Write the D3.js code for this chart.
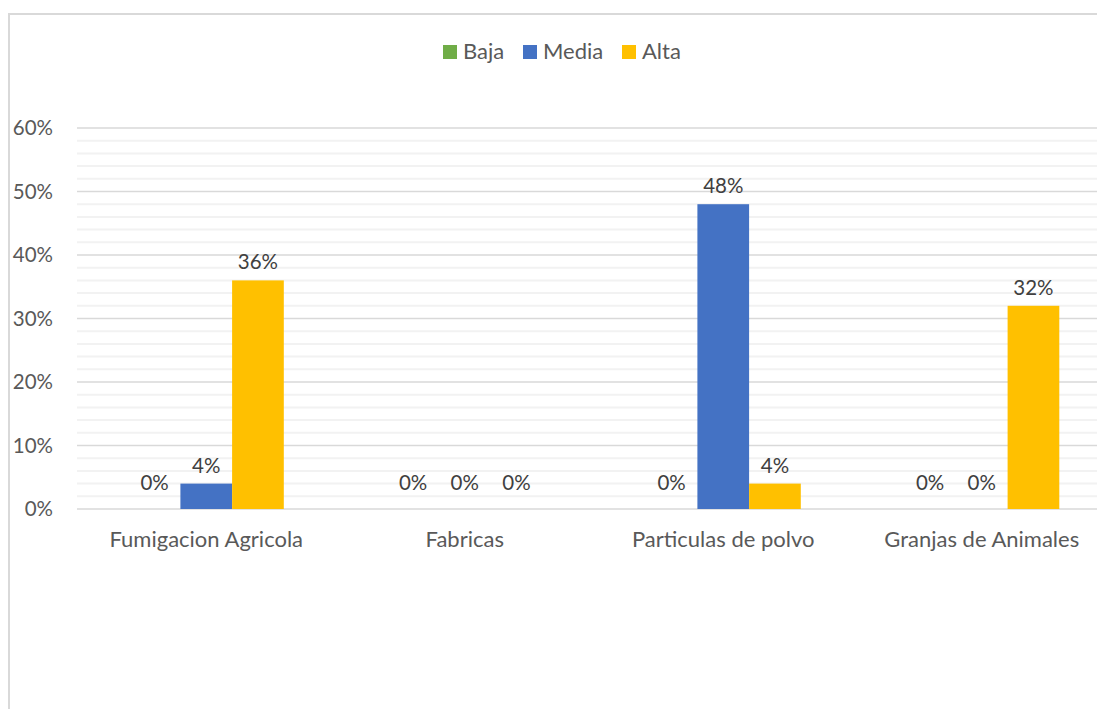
<!DOCTYPE html>
<html>
<head>
<meta charset="utf-8">
<script src="https://cdn.jsdelivr.net/npm/d3@7"></script>
<style>
  html, body { margin: 0; background: #fff; overflow: hidden; }
  svg { display: block; }
  svg text { font-family: "Lato", "Open Sans", sans-serif; }
</style>
</head>
<body>
<div id="chart"></div>
<script>
const categories = ['Fumigacion Agricola', 'Fabricas', 'Particulas de polvo', 'Granjas de Animales'];
const seriesNames = ['Baja', 'Media', 'Alta'];
const seriesColors = ['#70ad47', '#4472c4', '#ffc000'];
const baja = [0, 0, 0, 0];
const media = [0.04, 0, 0.48, 0];
const alta = [0.36, 0, 0.04, 0.32];
const majorTicks = [0, 0.1, 0.2, 0.3, 0.4, 0.5, 0.6];

const [svgW, svgH] = [1097, 709];
const margin = {top: 128, left: 77};
const plotW = 1034;
const baseY = 509;
const numSize = 20.5;   // numbers
const txtSize = 22;     // words

const series = [baja, media, alta];

const svg = d3.select('#chart').append('svg')
    .attr('width', svgW).attr('height', svgH);

// chart border (only left and top edges are inside the frame)
svg.append('path')
    .attr('d', `M9,${svgH}V14H${svgW}`)
    .attr('fill', 'none').attr('stroke', '#d9d9d9').attr('stroke-width', 2);

const y = d3.scaleLinear().domain([0, 0.6]).range([baseY, margin.top]);
const x0 = d3.scaleBand().domain(categories).range([margin.left, margin.left + plotW]);
// gap width 200%: 3 bars + 2 bar widths of gap per band
const x1 = d3.scaleBand().domain(d3.range(3)).range([0, x0.bandwidth()]).paddingOuter(1).paddingInner(0);

const grid = svg.append('g');
// minor gridlines every 2%
grid.selectAll('line.minor')
    .data(d3.range(1, 30).filter(i => i % 5 !== 0).map(i => i * 0.02))
    .join('line').attr('class', 'minor')
    .attr('x1', margin.left).attr('x2', svgW)
    .attr('y1', d => y(d)).attr('y2', d => y(d))
    .attr('stroke', '#f2f2f2').attr('stroke-width', 2);
grid.selectAll('line.major')
    .data(majorTicks)
    .join('line').attr('class', 'major')
    .attr('x1', margin.left).attr('x2', svgW)
    .attr('y1', d => y(d)).attr('y2', d => y(d))
    .attr('stroke', '#d9d9d9').attr('stroke-width', 1.5);

// y tick labels
svg.append('g').selectAll('text')
    .data(majorTicks)
    .join('text')
    .attr('x', 53).attr('y', d => y(d)).attr('dy', '0.36em')
    .attr('text-anchor', 'end').attr('fill', '#595959').attr('font-size', numSize)
    .text(d3.format('.0%'));

// bars
const groups = svg.append('g').selectAll('g')
    .data(categories)
    .join('g')
    .attr('transform', d => `translate(${x0(d)},0)`);

groups.selectAll('rect')
    .data((d, i) => series.map((s, j) => ({j, v: s[i]})))
    .join('rect')
    .attr('x', d => x1(d.j)).attr('width', x1.bandwidth())
    .attr('y', d => y(d.v)).attr('height', d => baseY - y(d.v))
    .attr('fill', d => seriesColors[d.j]);

groups.selectAll('text')
    .data((d, i) => series.map((s, j) => ({j, v: s[i]})))
    .join('text')
    .attr('x', d => x1(d.j) + x1.bandwidth() / 2)
    .attr('y', d => y(d.v) - (d.v === 0 ? 19 : 11))
    .attr('text-anchor', 'middle').attr('fill', '#404040').attr('font-size', numSize)
    .text(d => d3.format('.0%')(d.v));

// category labels
svg.append('g').selectAll('text')
    .data(categories)
    .join('text')
    .attr('x', d => x0(d) + x0.bandwidth() / 2).attr('y', 547)
    .attr('text-anchor', 'middle').attr('fill', '#595959').attr('font-size', txtSize)
    .text(d => d);

// legend
const legendX = [443, 523, 622];
const legend = svg.append('g').selectAll('g')
    .data(seriesNames)
    .join('g')
    .attr('transform', (d, i) => `translate(${legendX[i]},45)`);
legend.append('rect').attr('width', 14).attr('height', 14)
    .attr('fill', (d, i) => seriesColors[i]);
legend.append('text').attr('x', 20).attr('y', 14)
    .attr('fill', '#595959').attr('font-size', txtSize)
    .text(d => d);
</script>
</body>
</html>
